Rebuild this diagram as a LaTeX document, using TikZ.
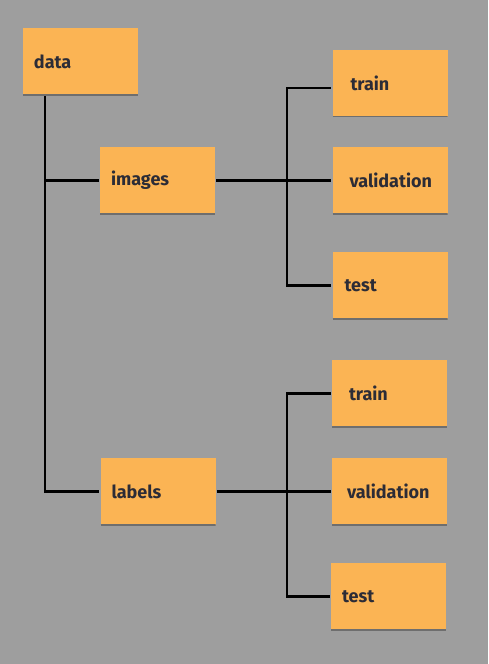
\documentclass[tikz,border=0pt]{standalone}
\usepackage{fontspec}
\setmainfont{Fira Sans}
\usepackage{tikz}
\usetikzlibrary{positioning,calc}

\definecolor{bggray}{RGB}{158,158,158}
\definecolor{boxorange}{RGB}{251,180,84}
\definecolor{textdark}{RGB}{44,44,54}
\definecolor{shadegray}{RGB}{110,110,110}

\begin{document}
\begin{tikzpicture}[x=1pt, y=-1pt, line width=2.3pt,
  folder/.style={rectangle, fill=boxorange, minimum width=115pt, minimum height=67pt,
    inner ysep=0pt, align=left, text=textdark, font=\fontsize{18}{21}\selectfont\bfseries,
    path picture={\draw [shadegray, line width=1.2pt]
      (path picture bounding box.south west) -- (path picture bounding box.south east);}}]
\fill [bggray] (0,0) rectangle (488,664);
\useasboundingbox (0,0) rectangle (488,664);

\node [folder, inner xsep=11pt, text width=93pt] (data) at (80.5,61.5) {data};
\node [folder, inner xsep=11pt, text width=93pt] (images) at (157.5,180.5) {images};
\node [folder, inner xsep=11pt, text width=93pt] (labels) at (158,491.5) {labels};

\node [folder, inner xsep=18pt, text width=79pt] (train1) at (390,83) {train};
\node [folder, inner xsep=17pt, text width=81pt] (val1) at (390,180.5) {validation};
\node [folder, inner xsep=12pt, text width=91pt] (test1) at (390,285.5) {test};

\node [folder, inner xsep=17pt, text width=81pt] (train2) at (389.5,393.5) {train};
\node [folder, inner xsep=15pt, text width=85pt] (val2) at (389.5,491.5) {validation};
\node [folder, inner xsep=11pt, text width=93pt] (test2) at (388.5,596.5) {test};

% data -> images, labels
\coordinate (droot) at ($(data.south west)+(23,0)$);
\draw (droot) |- (images.west);
\draw (droot) |- (labels.west);

% images -> splits
\draw (images.east) -- ++(71,0) coordinate (isplit);
\draw (isplit) |- ([yshift=-5pt]train1.west);
\foreach \c in {val1,test1}
  \draw (isplit) |- (\c.west);

% labels -> splits
\draw (labels.east) -- ++(70,0) coordinate (lsplit);
\foreach \c in {train2,val2,test2}
  \draw (lsplit) |- (\c.west);
\end{tikzpicture}
\end{document}
